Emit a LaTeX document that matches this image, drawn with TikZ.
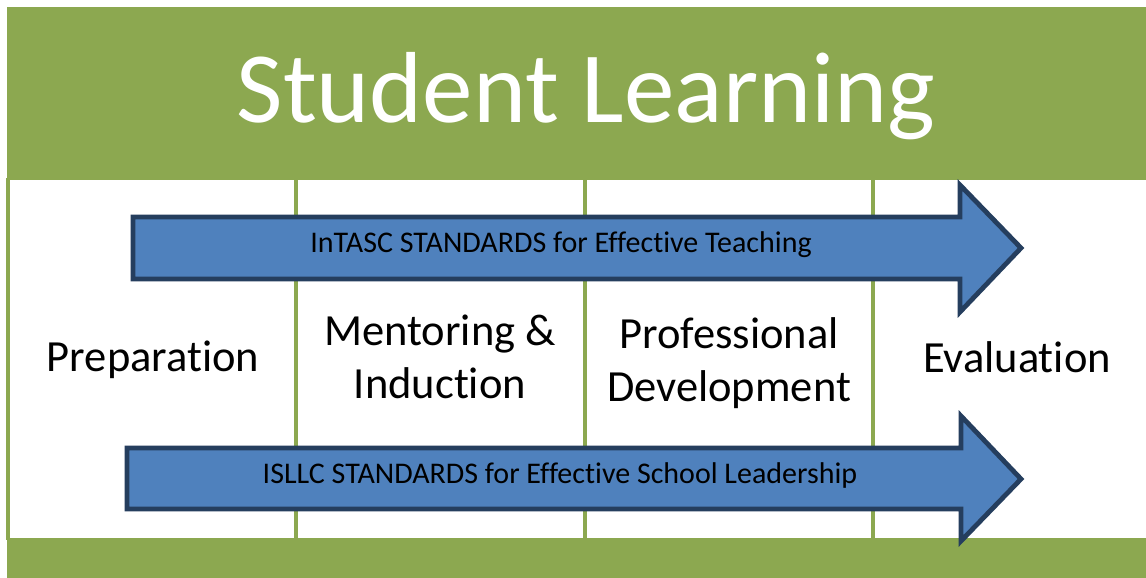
\documentclass[tikz,border=0pt]{standalone}
\usepackage{fontspec}
\setmainfont{Carlito}[Ligatures=NoCommon]
\definecolor{bandgreen}{RGB}{140,168,80}
\definecolor{arrowblue}{RGB}{79,129,189}
\definecolor{arrowedge}{RGB}{37,62,94}
\tikzset{
  band/.style={fill=bandgreen, draw=none},
  divider/.style={draw=bandgreen, line width=4pt},
  bigarrow/.style={fill=arrowblue, draw=arrowedge, line width=4.8pt, line join=miter},
  titletext/.style={text=white, font=\fontsize{101}{110}\selectfont, inner sep=0pt, anchor=base},
  coltext/.style={text=black, font=\fontsize{44.5}{53}\selectfont, inner sep=0pt, anchor=base, align=center},
  arrowtext/.style={text=black, font=\fontsize{30}{34}\selectfont, inner sep=0pt, anchor=base}
}
\begin{document}
\begin{tikzpicture}[x=1pt,y=-1pt]
\useasboundingbox (0,0) rectangle (1146,578);
% bands
\fill[white] (0,0) rectangle (1146,578);
\path[band] (7,7) rectangle (1146,180);
\path[band] (7,538) rectangle (1146,578);
% column dividers
\foreach \xx in {8,296,585,873} {
  \draw[divider] (\xx,178) -- (\xx,540);
}
% title
\node[titletext] (title) at (586,122) {Student Learning};
% arrows
\draw[bigarrow] (133,217) -- (960,217) -- (960,185) -- (1021,248) -- (960,312) -- (960,279) -- (133,279) -- cycle;
\draw[bigarrow] (127,448) -- (961,448) -- (961,416) -- (1021,479) -- (961,541) -- (961,509) -- (127,509) -- cycle;
\node[arrowtext] (intasc) at (561,252) {InTASC STANDARDS for Effective Teaching};
\node[arrowtext] (isllc) at (560,483) {ISLLC STANDARDS for Effective School Leadership};
% column labels
\node[coltext] (prep) at (153,371) {Preparation};
\node[coltext] (ment) at (440,398) {Mentoring \&\\Induction};
\node[coltext] (prof) at (729,401) {Professional\\Development};
\node[coltext] (eval) at (1017,372) {Evaluation};
\end{tikzpicture}
\end{document}
